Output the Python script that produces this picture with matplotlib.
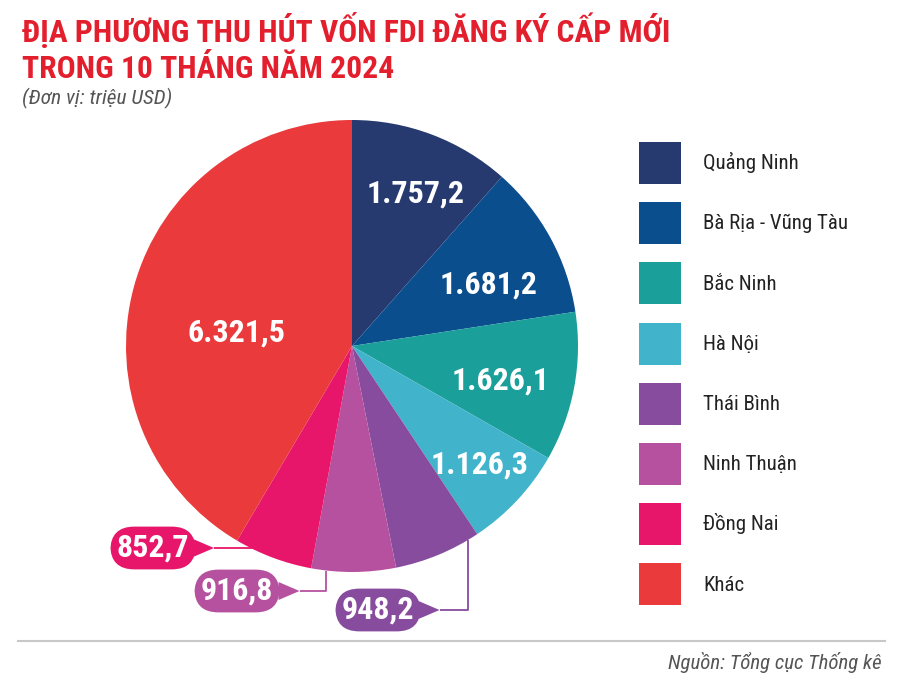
import numpy as np
import matplotlib
matplotlib.use("Agg")
import matplotlib.pyplot as plt
from matplotlib.patches import Polygon

# data (triệu USD)
regions = ["Quảng Ninh", "Bà Rịa - Vũng Tàu", "Bắc Ninh", "Hà Nội",
           "Thái Bình", "Ninh Thuận", "Đồng Nai", "Khác"]
values = [1757.2, 1681.2, 1626.1, 1126.3, 948.2, 916.8, 852.7, 6321.5]
value_labels = ["1.757,2", "1.681,2", "1.626,1", "1.126,3",
                "948,2", "916,8", "852,7", "6.321,5"]
colors = ["#263a70", "#0b4e8e", "#1a9f9b", "#41b4cb",
          "#874c9e", "#b6519f", "#e8166a", "#ea3a3b"]

W, H = 900, 681
RED = "#e31e2d"
GREY = "#555555"
COND = "Roboto Condensed"

fig = plt.figure(figsize=(9, 6.81), dpi=100)
ax = fig.add_axes([0, 0, 1, 1])

# pie, centre/radius in pixel units (y measured upwards)
cx, cy, R = 352, H - 346, 226
wedges, _ = ax.pie(values, colors=colors, startangle=90, counterclock=False,
                   center=(cx, cy), radius=R, frame=False)
ax.set_xlim(0, W)
ax.set_ylim(0, H)
ax.set_aspect("equal")
ax.axis("off")

# labels inside the wedges: (radius fraction, angle nudge in degrees)
inside = {0: (0.738, -1.8), 1: (0.664, -3.7), 2: (0.675, -2.0),
          3: (0.764, 0.8), 7: (0.514, 7.4)}
for i, (rf, dt) in inside.items():
    w = wedges[i]
    a = np.deg2rad((w.theta1 + w.theta2) / 2 + dt)
    ax.text(cx + rf * R * np.cos(a), cy + rf * R * np.sin(a) - 2, value_labels[i],
            color="white", fontsize=23, fontweight="bold", family=COND,
            ha="center", va="center")

# callouts for the small wedges: anchor angle on rim, box centre (px), box width
callouts = {6: (-115.5, (153, 548), 96),
            5: (-96.6, (237, 591), 99),
            4: (-59.1, (378, 610), 97)}
for i, (ang, (bx, by), bw) in callouts.items():
    c = colors[i]
    by = H - by
    a = np.deg2rad(ang)
    x0, y0 = cx + R * np.cos(a), cy + R * np.sin(a)
    tip = bx + bw / 2 + 13
    ax.plot([x0, x0, tip], [y0, by, by], color=c, lw=1.3,
            solid_capstyle="butt", zorder=1)
    ax.add_patch(Polygon([[bx + bw / 2 - 8, by + 9], [tip, by],
                          [bx + bw / 2 - 8, by - 9]],
                         closed=True, fc=c, ec="none", zorder=2))
    ax.text(bx, by, value_labels[i], color="white", fontsize=23,
            fontweight="bold", family=COND, ha="center", va="center", zorder=3,
            bbox=dict(boxstyle="round,pad=0.2,rounding_size=0.75", fc=c, ec="none"))

# legend
leg = ax.legend(wedges, regions, loc="upper left",
                bbox_to_anchor=(639 / W, 1 - 142 / H), bbox_transform=fig.transFigure,
                frameon=False, borderpad=0, borderaxespad=0,
                handlelength=2.02, handleheight=2.73, handletextpad=1.06,
                labelspacing=0.87, prop={"family": COND, "size": 15})
for t in leg.get_texts():
    t.set_color("#222222")

# titles
fig.text(22 / W, 1 - 42 / H, "ĐỊA PHƯƠNG THU HÚT VỐN FDI ĐĂNG KÝ CẤP MỚI",
         color=RED, fontsize=22.8, fontweight="bold", family=COND, va="baseline")
fig.text(22 / W, 1 - 78 / H, "TRONG 10 THÁNG NĂM 2024",
         color=RED, fontsize=22.8, fontweight="bold", family=COND, va="baseline")
fig.text(22 / W, 1 - 104 / H, "(Đơn vị: triệu USD)", color=GREY,
         fontsize=15.4, style="italic", family=COND, va="baseline")

# footer
ax.plot([18, 885], [H - 641, H - 641], color="#c8c8c8", lw=1.5)
fig.text(882 / W, 1 - 669 / H, "Nguồn: Tổng cục Thống kê", color=GREY,
         fontsize=15, style="italic", family=COND, ha="right", va="baseline")

fig.savefig("out.png", dpi=100)
